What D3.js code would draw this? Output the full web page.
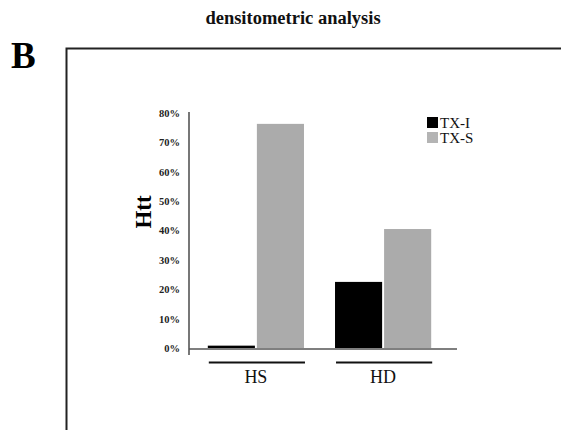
<!DOCTYPE html>
<html><head><meta charset="utf-8">
<script src="https://cdn.jsdelivr.net/npm/d3@7"></script>
<style>body{margin:0;background:#fff}svg{display:block}svg text{font-family:"Liberation Serif","DejaVu Serif","Times New Roman",serif}</style>
</head><body>
<svg id="c" width="561" height="430"></svg>
<script>
const categories = ["HS", "HD"];
const seriesNames = ["TX-I", "TX-S"];
const txI = [0.008, 0.225];
const txS = [0.763, 0.405];
const yTicks = [0, 0.1, 0.2, 0.3, 0.4, 0.5, 0.6, 0.7, 0.8];
const colors = ["#000000", "#ababab"];
const legendColors = ["#000000", "#b4b4b4"];

const data = categories.map((c, i) => ({cat: c, vals: [txI[i], txS[i]]}));
const svg = d3.select("#c");

// title
svg.append("text").attr("x", 293).attr("y", 24).attr("text-anchor", "middle")
  .attr("font-weight", "bold").attr("font-size", 18.5).attr("fill", "#111")
  .text("densitometric analysis");
svg.append("text").attr("x", 11).attr("y", 68)
  .attr("font-weight", "bold").attr("font-size", 37)
  .text("B");

// frame
svg.append("path").attr("d", "M66.5,430 V48.5 H561").attr("fill", "none")
  .attr("stroke", "#222").attr("stroke-width", 2);

const y = d3.scaleLinear().domain([0, 0.8]).range([348, 113]);
const x0 = d3.scaleBand().domain(categories).range([176, 463]).paddingInner(0.244).paddingOuter(0.25);
const x1 = d3.scaleBand().domain([0, 1]).range([0, x0.bandwidth()]).paddingInner(0.04);

// bars
const g = svg.append("g");
data.forEach(d => {
  d.vals.forEach((v, j) => {
    g.append("rect")
      .attr("x", x0(d.cat) + x1(j)).attr("width", x1.bandwidth())
      .attr("y", y(v)).attr("height", y(0) - y(v))
      .attr("fill", colors[j]);
  });
});

// y axis labels
const ax = svg.append("g").attr("transform", "translate(180,0)")
  .call(d3.axisLeft(y).tickValues(yTicks).tickSize(0).tickPadding(0).tickFormat(d3.format(".0%")));
ax.select(".domain").remove();
ax.selectAll("text").style("font-family", '"Liberation Serif","DejaVu Serif",serif').attr("font-weight", "bold")
  .attr("font-size", 10.5).attr("fill", "#222");

// axis lines
svg.append("line").attr("x1", 189).attr("x2", 189).attr("y1", 112).attr("y2", 355)
  .attr("stroke", "#555").attr("stroke-width", 1.6);
svg.append("line").attr("x1", 189).attr("x2", 457).attr("y1", 349).attr("y2", 349)
  .attr("stroke", "#555").attr("stroke-width", 1.6);

// group underline and labels
categories.forEach(c => {
  svg.append("line").attr("x1", x0(c) + 1).attr("x2", x0(c) + x0.bandwidth() + 1)
    .attr("y1", 362.5).attr("y2", 362.5).attr("stroke", "#111").attr("stroke-width", 2);
  svg.append("text").attr("x", x0(c) + x0.bandwidth() / 2).attr("y", 383)
    .attr("text-anchor", "middle").attr("font-size", 18)
    .attr("fill", "#111").text(c);
});

// y title
svg.append("text").attr("transform", "translate(151,212) rotate(-90)")
  .attr("text-anchor", "middle").attr("font-weight", "bold")
  .attr("font-size", 23).text("Htt");

// legend
seriesNames.forEach((s, i) => {
  svg.append("rect").attr("x", 427).attr("y", 117 + i * 15).attr("width", 11).attr("height", 11)
    .attr("fill", legendColors[i]);
  svg.append("text").attr("x", 440).attr("y", 128 + i * 15)
    .attr("font-size", 15).attr("fill", "#111").text(s);
});
</script>
</body></html>
